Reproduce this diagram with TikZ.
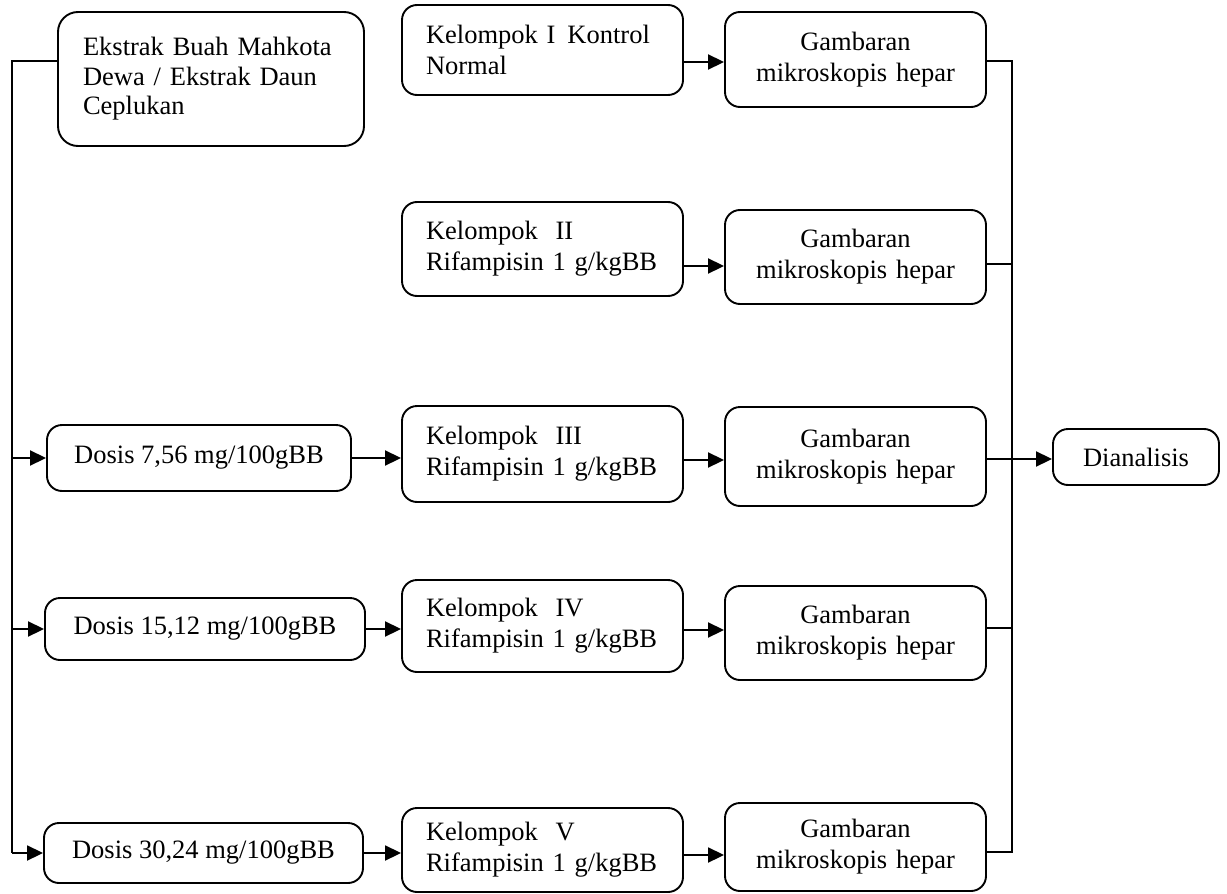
\documentclass[tikz,border=0pt]{standalone}
\usepackage{fontspec}
\setmainfont{Liberation Serif}
\usetikzlibrary{arrows.meta,calc}
\begin{document}
\begin{tikzpicture}[x=1pt,y=-1pt,
  box/.style={draw,line width=1.9pt,rounded corners=15pt,inner sep=0pt,
    font=\fontsize{26.5}{31}\selectfont},
  kbox/.style={box,minimum width=281pt,text width=233pt,align=left},
  gbox/.style={box,minimum width=261pt,text width=250pt,align=center},
  dbox/.style={box,align=center},
  ln/.style={line width=1.9pt},
  arr/.style={line width=1.9pt,-{Triangle[length=16pt,width=15pt]}}]
\useasboundingbox (0,0) rectangle (1227,894);
% boxes
\node[box,rounded corners=20pt,minimum width=306pt,minimum height=134pt,text width=256pt,align=left,font=\fontsize{26.5}{29.5}\selectfont] (ext) at (211,79) {Ekstrak Buah Mahkota\\Dewa / Ekstrak Daun\\Ceplukan\\[4pt]};
\node[kbox,minimum height=90pt] (k1) at (542.5,50) {Kelompok I\hspace{0.45em}Kontrol\\Normal};
\node[kbox,minimum height=94pt] (k2) at (542.5,249) {Kelompok\ \ II\\Rifampisin 1 g/kgBB};
\node[kbox,minimum height=96pt] (k3) at (542.5,454) {Kelompok\ \ III\\Rifampisin 1 g/kgBB};
\node[kbox,minimum height=92pt] (k4) at (542.5,626) {Kelompok\ \ IV\\Rifampisin 1 g/kgBB};
\node[kbox,minimum height=84pt] (k5) at (542.5,850) {Kelompok\ \ V\\Rifampisin 1 g/kgBB};
\node[gbox,minimum height=95pt] (g1) at (855.5,59.5) {Gambaran\\mikroskopis hepar};
\node[gbox,minimum height=94pt] (g2) at (855.5,257) {Gambaran\\mikroskopis hepar};
\node[gbox,minimum height=99pt] (g3) at (855.5,456.5) {Gambaran\\mikroskopis hepar};
\node[gbox,minimum height=94pt] (g4) at (855.5,633) {Gambaran\\mikroskopis hepar};
\node[gbox,minimum height=88pt] (g5) at (855.5,847) {Gambaran\\mikroskopis hepar};
\node[dbox,minimum width=304pt,minimum height=66pt] (d1) at (199,458) {Dosis 7,56 mg/100gBB};
\node[dbox,minimum width=320pt,minimum height=62pt] (d2) at (205,629) {Dosis 15,12 mg/100gBB};
\node[dbox,minimum width=319pt,minimum height=60pt] (d3) at (203.5,853) {Dosis 30,24 mg/100gBB};
\node[dbox,minimum width=166pt,minimum height=56pt] (dn) at (1136,457) {Dianalisis};
% left trunk
\coordinate (lt) at (12,61);
\coordinate (rc) at (1012,0);
\draw[ln] (ext.west |- lt) -- (lt) -- (lt |- d3.west);
\draw[arr] (lt |- d1.west) -- (d1.west);
\draw[arr] (lt |- d2.west) -- (d2.west);
\draw[arr] (lt |- d3.west) -- (d3.west);
% dosis to kelompok
\draw[arr] (d1.east) -- (k3.west |- d1.east);
\draw[arr] (d2.east) -- (k4.west |- d2.east);
\draw[arr] (d3.east) -- (k5.west |- d3.east);
% kelompok to gambaran
\draw[arr] (k1.east |- 0,62) -- (g1.west |- 0,62);
\draw[arr] (k2.east |- 0,266) -- (g2.west |- 0,266);
\draw[arr] (k3.east |- 0,460) -- (g3.west |- 0,460);
\draw[arr] (k4.east |- 0,630) -- (g4.west |- 0,630);
\draw[arr] (k5.east |- 0,855) -- (g5.west |- 0,855);
% collector
\draw[ln] (g1.east |- 0,61) -- (rc |- 0,61) -- (rc |- 0,852) -- (g5.east |- 0,852);
\draw[ln] (g2.east |- 0,264) -- (rc |- 0,264);
\draw[ln] (g4.east |- 0,628) -- (rc |- 0,628);
\draw[arr] (g3.east |- 0,459) -- (dn.west |- 0,459);
\end{tikzpicture}
\end{document}
